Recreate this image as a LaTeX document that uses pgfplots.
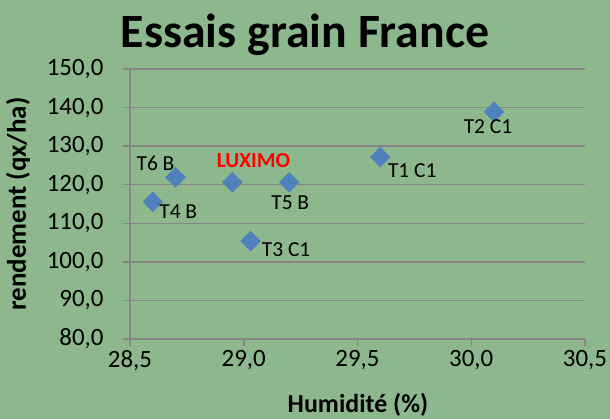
\documentclass[border=0pt]{standalone}
\usepackage{fontspec}
\setmainfont{Carlito}
\usepackage{pgfplots}
\pgfplotsset{compat=1.18}
\definecolor{bg}{RGB}{141,183,141}
\definecolor{gridc}{RGB}{134,134,134}
\definecolor{mk}{RGB}{79,129,189}
\definecolor{lux}{RGB}{255,0,0}
\begin{document}
\begin{tikzpicture}[x=1bp,y=1bp]
\path[use as bounding box, fill=bg] (-130,-80) rectangle (480,339);
\begin{axis}[at={(0,0)}, anchor=south west, scale only axis,
  width=455bp, height=270bp,
  xmin=28.5, xmax=30.5, ymin=80, ymax=150,
  xtick={28.5,29,29.5,30,30.5}, ytick={80,90,...,150},
  ymajorgrids, grid style={gridc, line width=1.5bp},
  axis lines*=left, axis line style={gridc, line width=1.5bp, -},
  tick style={gridc, line width=1.5bp}, tick align=outside,
  major tick length=7bp,
  /pgf/number format/.cd, fixed, fixed zerofill, precision=1, use comma, assume math mode=true, /pgfplots/.cd,
  ticklabel style={font=\fontsize{25}{25}\selectfont, text=black},
  yticklabel style={xshift=-16bp},
  xticklabel style={yshift=-1bp},
  xlabel={Humidité (\%)}, ylabel={rendement (qx/ha)},
  xlabel style={font=\bfseries\fontsize{26}{26}\selectfont, at={(axis description cs:0.501,-0.244)}, anchor=center},
  ylabel style={font=\bfseries\fontsize{27}{27}\selectfont, at={(axis description cs:-0.246,0.5)}, anchor=center},
  clip=false,
]
\addplot[only marks, mark=square*, mark size=7bp, mark options={rotate=45, fill=mk, draw=mk},
  point meta=explicit symbolic,
  visualization depends on={value \thisrow{dx} \as \ldx},
  visualization depends on={value \thisrow{dy} \as \ldy},
  nodes near coords,
  every node near coord/.style={anchor=center, inner sep=0pt, xshift=\ldx bp, yshift=\ldy bp, font=\fontsize{21.5}{21.5}\selectfont, text=black},
] table[col sep=comma, x=x, y=y, meta=label] {
x,y,label,dx,dy
30.10,138.9,T2 C1,-6,-15
29.60,127.2,T1 C1,32,-14
28.70,121.9,T6 B,-20,14
28.60,115.6,T4 B,25.5,-10
29.20,120.65,T5 B,1,-20
29.03,105.4,T3 C1,35.5,-9
};
\addplot[only marks, mark=square*, mark size=7bp, mark options={rotate=45, fill=mk, draw=mk},
  nodes near coords={LUXIMO},
  every node near coord/.style={anchor=center, inner sep=0pt, xshift=21bp, yshift=22bp, font=\bfseries\fontsize{21.5}{21.5}\selectfont, text=lux},
] coordinates {(28.95,120.65)};
\end{axis}
\node[anchor=base, font=\bfseries\fontsize{48}{48}\selectfont] at (175,292) {Essais grain France};
\end{tikzpicture}
\end{document}
